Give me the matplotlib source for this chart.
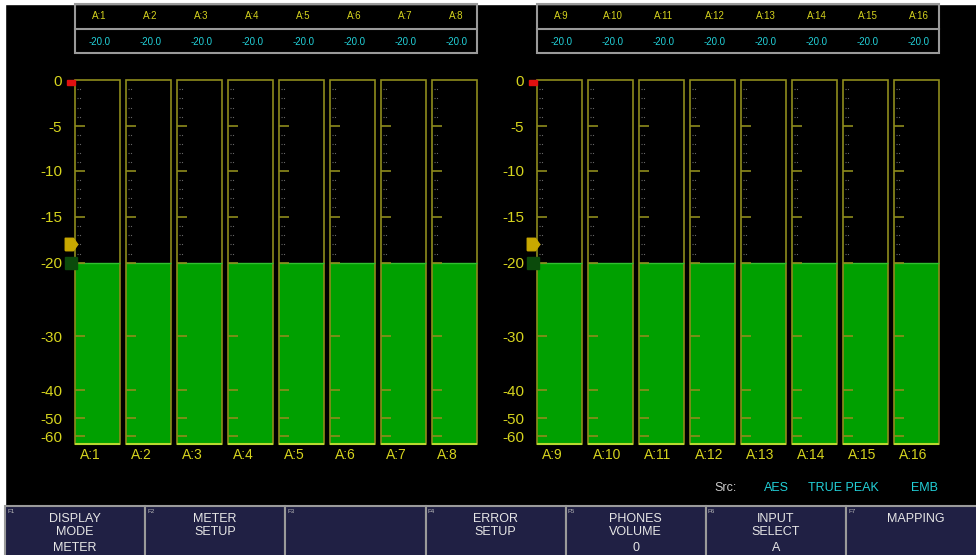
import matplotlib
matplotlib.use("Agg")
import matplotlib.pyplot as plt
import numpy as np
from matplotlib.patches import Rectangle
from matplotlib.path import Path

plt.rcParams['font.family'] = ['Liberation Sans', 'DejaVu Sans']

# channel data
channels_left = ['A:1', 'A:2', 'A:3', 'A:4', 'A:5', 'A:6', 'A:7', 'A:8']
channels_right = ['A:9', 'A:10', 'A:11', 'A:12', 'A:13', 'A:14', 'A:15', 'A:16']
levels_left = [-20.0, -20.0, -20.0, -20.0, -20.0, -20.0, -20.0, -20.0]
levels_right = [-20.0, -20.0, -20.0, -20.0, -20.0, -20.0, -20.0, -20.0]

# scale marks
scale_ticks = [0, -5, -10, -15, -20, -30, -40, -50, -60]
scale_minor = [-1, -2, -3, -4, -6, -7, -8, -9, -11, -12, -13, -14, -16, -17, -18, -19]
over_level = 0
ref_level = -18
test_level = -20
meter_floor = -64

# function keys
key_names = ['F1', 'F2', 'F3', 'F4', 'F5', 'F6', 'F7']
key_labels = ['DISPLAY\nMODE', 'METER\nSETUP', '', 'ERROR\nSETUP', 'PHONES\nVOLUME', 'INPUT\nSELECT', 'MAPPING']
key_values = ['METER', '', '', '', '0', 'A', '']

status_items = ['Src:', 'AES', 'TRUE PEAK', 'EMB']

W, H = 976, 555
YELLOW = '#d6d41e'
OLIVE = '#8e8c1c'
CYAN = '#22d0d8'
GREEN = '#00a000'
NAVY = '#202044'

# non-linear meter scale (dB -> screen position)
knot_db = np.array([-64, -60, -50, -40, -30, -20, -15, -10, -5, 0])
knot_px = np.array([444, 436, 418, 390, 336, 263, 216.5, 171, 126, 80])


def fwd(v):
    return -np.interp(v, knot_db, knot_px)


def inv(v):
    return np.interp(v, -knot_px, knot_db)


def box(l, t, r, b):
    return [l / W, 1 - b / H, (r - l) / W, (b - t) / H]


fig = plt.figure(figsize=(W / 100, H / 100), dpi=100, facecolor='black')

# background / frame
bg = fig.add_axes([0, 0, 1, 1])
bg.set_xlim(0, W)
bg.set_ylim(H, 0)
bg.axis('off')
bg.add_patch(Rectangle((0, 0), 5, H, color='white'))
bg.add_patch(Rectangle((0, 0), W, 3.5, color='white'))

# function keys
for i, (name, lab, val) in enumerate(zip(key_names, key_labels, key_values)):
    x0 = 5 + i * 140.2
    bg.add_patch(Rectangle((x0, 506), 140.2, 60, facecolor=NAVY, edgecolor='#9a9a9a', lw=1.5))
    bg.text(x0 + 2, 509, name, color='#bbbbbb', fontsize=4.5, va='top', ha='left')
    bg.text(x0 + 70, 513, lab, color='#e6e6e6', fontsize=9, ha='center', va='top', linespacing=1.15)
    if val:
        bg.text(x0 + 70, 548, val, color='#e6e6e6', fontsize=9, ha='center', va='center')

# status line
status_x = [726, 776, 843, 925]
status_c = ['#cccccc', CYAN, CYAN, CYAN]
for s, x, c in zip(status_items, status_x, status_c):
    bg.text(x, 488, s, color=c, fontsize=9, ha='center', va='center')


def draw_group(left_px, names, levels):
    # meter axes
    ax = fig.add_axes(box(left_px, 80, left_px + 408, 444))
    ax.set_facecolor('none')
    ax.set_yscale('function', functions=(fwd, inv))
    ax.set_xlim(-0.5, 7.5)
    ax.set_ylim(meter_floor, 0)
    for sp in ax.spines.values():
        sp.set_visible(False)
    ax.set_xticks([])
    ax.set_yticks(scale_ticks)
    ax.set_yticklabels([str(t) for t in scale_ticks])
    ax.yaxis.set_minor_locator(matplotlib.ticker.NullLocator())
    ax.tick_params(axis='y', length=0, pad=7, labelsize=11, labelcolor=YELLOW)

    x = np.arange(len(names))
    w = 45 / 51
    px = 1 / 51
    ax.bar(x, np.array(levels) - meter_floor, bottom=meter_floor, width=w,
           color=GREEN, edgecolor='none')
    ax.bar(x, -meter_floor, bottom=meter_floor, width=w, fill=False,
           edgecolor=OLIVE, lw=1.2, clip_on=False)
    ax.hlines([meter_floor] * len(x), x - w / 2, x + w / 2, color='#b8d830', lw=1.5, clip_on=False)
    ax.hlines(levels, x - w / 2, x + w / 2, color='#30c030', lw=1.0)
    for xi in x:
        ax.hlines(scale_ticks[1:], xi - w / 2, xi - w / 2 + 10 * px, color=OLIVE, lw=1.2)
        ax.hlines(scale_minor, xi - w / 2 + 2 * px, xi - w / 2 + 6 * px, color='#666666',
                  lw=0.8, linestyles=(0, (1, 1.2)))
    for xi, n in zip(x, names):
        ax.annotate(n, (xi - w / 2 + 5 * px, meter_floor), xytext=(0, -3),
                    textcoords='offset points', color=YELLOW, fontsize=10,
                    ha='left', va='top', annotation_clip=False)

    # reference markers
    ax.add_patch(Rectangle((-0.5 - 5 * px, -0.5), 8 * px, 0.5, color='#e01010', clip_on=False))
    pent = Path([(-1, -1), (0.3, -1), (1, 0), (0.3, 1), (-1, 1), (-1, -1)])
    ax.plot([-0.5 - px], [ref_level], marker=pent, ms=9, color='#c8a800', clip_on=False)
    ax.plot([-0.5 - px], [test_level], marker='s', ms=8, color='#0b4a0b', clip_on=False)

    # readout table
    tb = fig.add_axes(box(left_px, 4, left_px + 408, 53))
    tb.axis('off')
    tb.set_xlim(-0.5, 7.5)
    tb.set_ylim(0, 1)
    tb.add_patch(Rectangle((-0.5 + 3 * px, 0), 8 - 6 * px, 1, fill=False,
                           edgecolor='#9a9a9a', lw=1.5, clip_on=False))
    tb.plot([-0.5 + 3 * px, 7.5 - 3 * px], [0.49, 0.49], color='#9a9a9a', lw=1.5)
    for xi, n, v in zip(x, names, levels):
        tb.text(xi + 2 * px, 0.755, n, color=YELLOW, fontsize=7, ha='center', va='center')
        tb.text(xi + 2 * px, 0.23, f'{v:.1f}', color=CYAN, fontsize=7, ha='center', va='center')
    return ax


draw_group(72, channels_left, levels_left)
draw_group(534, channels_right, levels_right)

fig.savefig('out.png', dpi=100, facecolor='black')
